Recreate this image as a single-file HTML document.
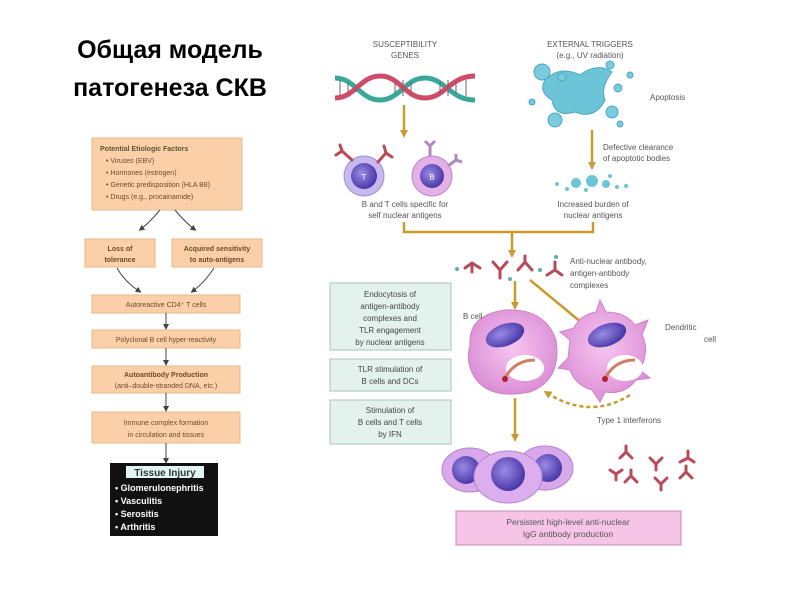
<!DOCTYPE html>
<html><head><meta charset="utf-8"><style>
html,body{margin:0;padding:0;width:800px;height:600px;overflow:hidden;background:#fff;}
svg{display:block;font-family:"Liberation Sans",sans-serif;}
</style></head><body>
<svg width="800" height="600" viewBox="0 0 800 600">
<defs>
<marker id="ag" markerWidth="8" markerHeight="8" refX="4" refY="4" orient="auto" markerUnits="userSpaceOnUse"><path d="M0,0 L8,4 L0,8 z" fill="#c99a2e"/></marker>
<marker id="ak" markerWidth="6" markerHeight="6" refX="3" refY="3" orient="auto" markerUnits="userSpaceOnUse"><path d="M0,0 L6,3 L0,6 z" fill="#444"/></marker>
<radialGradient id="cyt" cx="50%" cy="45%" r="55%"><stop offset="0" stop-color="#f6c6f0"/><stop offset="1" stop-color="#dc8fd6"/></radialGradient>
<radialGradient id="nuc" cx="40%" cy="40%" r="60%"><stop offset="0" stop-color="#9a8ae6"/><stop offset="1" stop-color="#4a3aa8"/></radialGradient>
</defs>
<text x="170" y="58" font-size="25" font-weight="bold" text-anchor="middle">Общая модель</text>
<text x="170" y="96" font-size="25" font-weight="bold" text-anchor="middle">патогенеза СКВ</text>

<g font-size="7" fill="#6b4a2a">
<rect x="92" y="138" width="150" height="72" fill="#fbd0a8" stroke="#e8b88a"/>
<text x="100" y="151" font-weight="bold" fill="#553">Potential Etiologic Factors</text>
<text x="106" y="163">• Viruses (EBV)</text>
<text x="106" y="175">• Hormones (estrogen)</text>
<text x="106" y="187">• Genetic predisposition (HLA B8)</text>
<text x="106" y="199">• Drugs (e.g., procainamide)</text>
<rect x="85" y="239" width="70" height="28" fill="#fbd0a8" stroke="#e8b88a"/>
<text x="120" y="251" text-anchor="middle" font-weight="bold">Loss of</text>
<text x="120" y="262" text-anchor="middle" font-weight="bold">tolerance</text>
<rect x="172" y="239" width="90" height="28" fill="#fbd0a8" stroke="#e8b88a"/>
<text x="217" y="251" text-anchor="middle" font-weight="bold">Acquired sensitivity</text>
<text x="217" y="262" text-anchor="middle" font-weight="bold">to auto-antigens</text>
<rect x="92" y="295" width="148" height="18" fill="#fbd0a8" stroke="#e8b88a"/>
<text x="166" y="307" text-anchor="middle">Autoreactive CD4⁺ T cells</text>
<rect x="92" y="330" width="148" height="18" fill="#fbd0a8" stroke="#e8b88a"/>
<text x="166" y="342" text-anchor="middle">Polyclonal B cell hyper-reactivity</text>
<rect x="92" y="366" width="148" height="27" fill="#fbd0a8" stroke="#e8b88a"/>
<text x="166" y="377" text-anchor="middle" font-weight="bold">Autoantibody Production</text>
<text x="166" y="388" text-anchor="middle">(anti–double-stranded DNA, etc.)</text>
<rect x="92" y="412" width="148" height="31" fill="#fbd0a8" stroke="#e8b88a"/>
<text x="166" y="425" text-anchor="middle">Immune complex formation</text>
<text x="166" y="437" text-anchor="middle">in circulation and tissues</text>
</g>
<g stroke="#444" fill="none" stroke-width="1">
<path d="M160,210 Q150,222 141,229" marker-end="url(#ak)"/>
<path d="M175,210 Q185,222 194,229" marker-end="url(#ak)"/>
<path d="M117,268 Q125,282 139,291" marker-end="url(#ak)"/>
<path d="M214,268 Q205,282 193,291" marker-end="url(#ak)"/>
<path d="M166,313 V327" marker-end="url(#ak)"/>
<path d="M166,348 V363" marker-end="url(#ak)"/>
<path d="M166,393 V409" marker-end="url(#ak)"/>
<path d="M166,443 V461" marker-end="url(#ak)"/>
</g>
<rect x="110" y="463" width="108" height="73" fill="#111"/>
<rect x="126" y="466" width="78" height="12" fill="#e0f4f2"/>
<text x="165" y="476" font-size="10" text-anchor="middle" font-weight="bold" fill="#333">Tissue Injury</text>
<g font-size="9" font-weight="bold" fill="#fff">
<text x="115" y="491">• Glomerulonephritis</text>
<text x="115" y="504">• Vasculitis</text>
<text x="115" y="517">• Serositis</text>
<text x="115" y="530">• Arthritis</text>
</g>

<g font-size="8" fill="#555" text-anchor="middle">
<text x="405" y="47">SUSCEPTIBILITY</text><text x="405" y="58">GENES</text>
<text x="590" y="47">EXTERNAL TRIGGERS</text><text x="590" y="58">(e.g., UV radiation)</text>
<text x="405" y="207">B and T cells specific for</text><text x="405" y="218">self nuclear antigens</text>
<text x="593" y="207">Increased burden of</text><text x="593" y="218">nuclear antigens</text>
</g>
<!-- DNA -->
<g stroke-width="5" fill="none">
<path d="M335,78 C355,78 360,100 380,100 S405,78 425,78 S450,100 475,100" stroke="#3aa89a"/>
<path d="M335,98 C355,98 360,76 380,76 S405,98 425,98 S450,76 475,76" stroke="#d04a6a"/>
</g>
<g stroke="#666" stroke-width="1"><path d="M340,80V96M348,82V94M356,86V92M395,82V94M403,80V96M411,82V94M440,82V94M448,80V96M456,82V94M466,80V96"/></g>
<!-- arrows gold -->
<g stroke="#c99a2e" stroke-width="2.5" fill="none">
<path d="M404,105V134" marker-end="url(#ag)"/>
<path d="M592,130V166" marker-end="url(#ag)"/>
<path d="M404,222V232H593V222M512,232V253" />
<path d="M512,250V254" marker-end="url(#ag)"/>
<path d="M515,281V306" marker-end="url(#ag)"/>
<path d="M530,280L582,323" marker-end="url(#ag)"/>
<path d="M515,398V438" marker-end="url(#ag)"/>
<path d="M630,395Q590,420 547,393" stroke-dasharray="4,3" marker-end="url(#ag)"/>
</g>
<!-- T and B cells -->
<circle cx="364" cy="176" r="20" fill="#c8b8f0" stroke="#a090d0"/>
<circle cx="364" cy="176" r="13" fill="url(#nuc)"/>
<text x="364" y="180" font-size="8" fill="#fff" text-anchor="middle">T</text>
<circle cx="432" cy="176" r="20" fill="#e4b0e8" stroke="#c080c8"/>
<circle cx="432" cy="176" r="12" fill="url(#nuc)"/>
<text x="432" y="180" font-size="8" fill="#fff" text-anchor="middle">B</text>
<g stroke="#b84a5a" stroke-width="3" fill="none" stroke-linecap="round">
<path d="M352,160L342,151M342,151L336,155M342,151L340,145"/>
<path d="M378,162L386,153M386,153L392,157M386,153L384,146"/>
</g>
<g stroke="#b088c0" stroke-width="3" fill="none"><path d="M430,156V146M430,146L425,141M430,146L435,141M448,166L456,160M456,160L462,162M456,160L456,154"/></g>
<!-- Apoptosis -->
<path d="M545,80 Q560,65 580,75 Q598,62 612,72 Q600,88 605,100 Q595,120 575,112 Q555,118 552,100 Q538,92 545,80z" fill="#6cc4d8" stroke="#4aa8c0"/>
<g fill="#7ccade" stroke="#4aa8c0"><circle cx="542" cy="72" r="8"/><circle cx="555" cy="120" r="7"/><circle cx="612" cy="112" r="6"/><circle cx="618" cy="88" r="4"/><circle cx="610" cy="65" r="4"/><circle cx="630" cy="75" r="3"/><circle cx="532" cy="102" r="3"/><circle cx="562" cy="77" r="4"/><circle cx="620" cy="124" r="3"/></g>
<g fill="#6cc4d8"><circle cx="576" cy="183" r="5"/><circle cx="592" cy="181" r="6"/><circle cx="606" cy="184" r="4"/><circle cx="557" cy="184" r="2"/><circle cx="567" cy="189" r="2"/><circle cx="617" cy="187" r="2"/><circle cx="626" cy="186" r="2"/><circle cx="610" cy="176" r="2"/><circle cx="586" cy="190" r="2"/></g>
<!-- antibodies -->
<g stroke="#b84a5a" stroke-width="3" fill="none" stroke-linecap="round">
<path d="M465,268L472,263L480,268M472,263V272"/>
<path d="M493,262L500,270L507,262M500,270V278"/>
<path d="M518,270L525,262L532,270M525,262L525,256"/>
<path d="M547,275L555,270L562,275M555,270V262"/>
<path d="M620,458l6,-6l6,6M626,452v-6 M650,458l6,6l6,-6M656,464v6 M680,462l8,-4l6,4M688,458v-7 M625,482l6,-6l6,6M631,476v-6 M655,478l6,6l6,-6M661,484v6 M680,478l6,-6l6,6M686,472v-6 M610,470l6,4l6,-4M616,474v6"/>
</g>
<g fill="#5ab0a8"><circle cx="457" cy="269" r="2"/><circle cx="510" cy="279" r="2"/><circle cx="540" cy="270" r="2"/><circle cx="556" cy="257" r="2"/></g>
<!-- left teal boxes -->
<g font-size="8" fill="#444" text-anchor="middle">
<rect x="330" y="283" width="121" height="67" fill="#e4f2ee" stroke="#a8c4bc"/>
<text x="390" y="297">Endocytosis of</text><text x="390" y="309">antigen-antibody</text><text x="390" y="321">complexes and</text><text x="390" y="333">TLR engagement</text><text x="390" y="345">by nuclear antigens</text>
<rect x="330" y="359" width="121" height="32" fill="#e4f2ee" stroke="#a8c4bc"/>
<text x="390" y="372">TLR stimulation of</text><text x="390" y="384">B cells and DCs</text>
<rect x="330" y="400" width="121" height="44" fill="#e4f2ee" stroke="#a8c4bc"/>
<text x="390" y="413">Stimulation of</text><text x="390" y="425">B cells and T cells</text><text x="390" y="437">by IFN</text>
</g>
<!-- B cell -->
<path d="M470,345 Q468,315 505,310 Q545,308 556,340 Q562,380 530,392 Q490,400 475,378 Q465,362 470,345z" fill="url(#cyt)" stroke="#d080cc"/>
<ellipse cx="505" cy="335" rx="20" ry="11" fill="url(#nuc)" transform="rotate(-20 505 335)"/>
<ellipse cx="525" cy="368" rx="19" ry="13" fill="#fff"/>
<path d="M505,378 Q515,360 535,360" stroke="#d08060" stroke-width="3" fill="none"/><circle cx="505" cy="379" r="3" fill="#b02030"/>
<!-- Dendritic -->
<path d="M570,340 L560,332 L574,328 Q580,315 596,312 L600,300 L606,312 Q625,312 635,325 L648,320 L642,335 Q650,350 640,370 L650,378 L636,380 Q625,395 605,392 L600,402 L592,390 Q575,385 570,370 L558,368 L568,358z" fill="url(#cyt)" stroke="#d080cc"/>
<ellipse cx="607" cy="335" rx="20" ry="11" fill="url(#nuc)" transform="rotate(-20 607 335)"/>
<ellipse cx="625" cy="368" rx="18" ry="13" fill="#fff"/>
<path d="M605,378 Q615,360 635,360" stroke="#d08060" stroke-width="3" fill="none"/><circle cx="605" cy="379" r="3" fill="#b02030"/>
<g font-size="8" fill="#555">
<text x="650" y="100">Apoptosis</text>
<text x="603" y="150">Defective clearance</text><text x="603" y="161">of apoptotic bodies</text>
<text x="570" y="264">Anti-nuclear antibody,</text><text x="570" y="276">antigen-antibody</text><text x="570" y="288">complexes</text>
<text x="463" y="319">B cell</text>
<text x="665" y="330">Dendritic</text>
<text x="716" y="342" text-anchor="end">cell</text>
<text x="597" y="423">Type 1 interferons</text>
</g>
<!-- plasma cells -->
<ellipse cx="470" cy="470" rx="28" ry="22" fill="#d8a8ea" stroke="#b088d0"/><circle cx="466" cy="470" r="14" fill="url(#nuc)"/>
<ellipse cx="545" cy="468" rx="28" ry="22" fill="#d8a8ea" stroke="#b088d0"/><circle cx="548" cy="468" r="14" fill="url(#nuc)"/>
<ellipse cx="508" cy="477" rx="34" ry="26" fill="#dcaeee" stroke="#b088d0"/><circle cx="508" cy="474" r="17" fill="url(#nuc)"/>
<!-- pink box -->
<rect x="456" y="511" width="225" height="34" fill="#f6c4e6" stroke="#c08ab0"/>
<text x="568" y="525" font-size="8.5" text-anchor="middle" fill="#555">Persistent high-level anti-nuclear</text>
<text x="568" y="537" font-size="8.5" text-anchor="middle" fill="#555">IgG antibody production</text>
</svg>
</body></html>
